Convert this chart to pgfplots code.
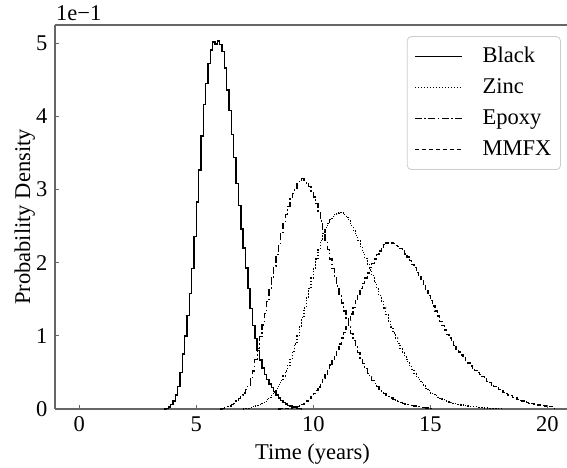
\documentclass[border=0pt]{standalone}
\usepackage{fontspec}
\setmainfont{Liberation Serif}
\usepackage{pgfplots}
\usepackage{pgfplotstable}
\pgfplotsset{compat=1.18}
\pgfplotstableread{
x b z e m
3.6 0 nan nan nan
3.7 0.001 nan nan nan
3.8 0.003 nan nan nan
3.9 0.006 nan nan nan
4.0 0.011 nan nan nan
4.1 0.019 nan nan nan
4.2 0.031 nan nan nan
4.3 0.050 nan nan nan
4.4 0.075 nan nan nan
4.5 0.100 nan nan nan
4.6 0.128 nan nan nan
4.7 0.158 nan nan nan
4.8 0.192 nan nan nan
4.9 0.236 nan nan nan
5.0 0.283 nan nan nan
5.1 0.327 nan nan nan
5.2 0.373 nan nan nan
5.3 0.416 nan nan nan
5.4 0.445 nan nan nan
5.5 0.472 nan nan nan
5.6 0.491 nan nan nan
5.7 0.502 nan nan nan
5.8 0.499 nan nan nan
5.9 0.503 nan nan nan
6.0 0.498 nan 0 nan
6.1 0.489 nan 0.001 nan
6.2 0.466 nan 0.002 nan
6.3 0.436 nan 0.003 nan
6.4 0.408 nan 0.004 nan
6.5 0.375 nan 0.006 nan
6.6 0.344 nan 0.008 nan
6.7 0.308 nan 0.011 nan
6.8 0.278 nan 0.014 nan
6.9 0.246 nan 0.018 nan
7.0 0.220 0 0.022 nan
7.1 0.193 0.001 0.027 nan
7.2 0.165 0.001 0.033 nan
7.3 0.137 0.002 0.041 nan
7.4 0.114 0.003 0.052 nan
7.5 0.096 0.004 0.068 nan
7.6 0.080 0.005 0.083 nan
7.7 0.067 0.006 0.099 nan
7.8 0.056 0.008 0.115 nan
7.9 0.047 0.010 0.131 nan
8.0 0.040 0.013 0.147 nan
8.1 0.034 0.016 0.163 nan
8.2 0.029 0.019 0.179 nan
8.3 0.024 0.023 0.195 nan
8.4 0.019 0.028 0.211 nan
8.5 0.015 0.033 0.226 0
8.6 0.012 0.039 0.241 0.0003
8.7 0.009 0.045 0.254 0.0005
8.8 0.007 0.052 0.266 0.0007
8.9 0.005 0.060 0.277 0.001
9.0 0.004 0.069 0.287 0.0013
9.1 0.003 0.079 0.295 0.002
9.2 0.002 0.089 0.302 0.0027
9.3 0.001 0.100 0.308 0.0035
9.4 0.0005 0.112 0.313 0.005
9.5 0 0.125 0.315 0.0065
9.6 nan 0.138 0.313 0.008
9.7 nan 0.152 0.309 0.011
9.8 nan 0.165 0.304 0.014
9.9 nan 0.179 0.298 0.017
10.0 nan 0.192 0.290 0.021
10.1 nan 0.205 0.281 0.025
10.2 nan 0.218 0.270 0.030
10.3 nan 0.230 0.257 0.036
10.4 nan 0.240 0.244 0.042
10.5 nan 0.248 0.231 0.048
10.6 nan 0.254 0.218 0.054
10.7 nan 0.259 0.205 0.060
10.8 nan 0.263 0.192 0.066
10.9 nan 0.266 0.180 0.073
11.0 nan 0.268 0.168 0.081
11.1 nan 0.269 0.156 0.089
11.2 nan 0.268 0.145 0.097
11.3 nan 0.266 0.134 0.105
11.4 nan 0.262 0.123 0.113
11.5 nan 0.257 0.113 0.121
11.6 nan 0.251 0.103 0.130
11.7 nan 0.244 0.094 0.139
11.8 nan 0.237 0.085 0.148
11.9 nan 0.230 0.077 0.157
12.0 nan 0.222 0.069 0.165
12.1 nan 0.214 0.062 0.172
12.2 nan 0.206 0.055 0.179
12.3 nan 0.198 0.049 0.186
12.4 nan 0.190 0.044 0.193
12.5 nan 0.182 0.039 0.199
12.6 nan 0.173 0.035 0.205
12.7 nan 0.164 0.031 0.211
12.8 nan 0.155 0.027 0.216
12.9 nan 0.147 0.024 0.221
13.0 nan 0.138 0.021 0.225
13.1 nan 0.129 0.019 0.227
13.2 nan 0.120 0.017 0.228
13.3 nan 0.112 0.015 0.227
13.4 nan 0.104 0.013 0.226
13.5 nan 0.097 0.011 0.224
13.6 nan 0.090 0.010 0.222
13.7 nan 0.083 0.009 0.219
13.8 nan 0.077 0.008 0.216
13.9 nan 0.071 0.007 0.212
14.0 nan 0.065 0.006 0.208
14.1 nan 0.059 0.005 0.203
14.2 nan 0.054 0.0045 0.198
14.3 nan 0.049 0.004 0.193
14.4 nan 0.044 0.0035 0.187
14.5 nan 0.040 0.003 0.181
14.6 nan 0.036 0.0025 0.175
14.7 nan 0.032 0.002 0.168
14.8 nan 0.028 0.0015 0.162
14.9 nan 0.025 0.001 0.155
15.0 nan 0.022 0.0005 0.148
15.1 nan 0.020 0 0.141
15.2 nan 0.018 nan 0.134
15.3 nan 0.016 nan 0.127
15.4 nan 0.014 nan 0.120
15.5 nan 0.013 nan 0.114
15.6 nan 0.011 nan 0.108
15.7 nan 0.010 nan 0.102
15.8 nan 0.009 nan 0.097
15.9 nan 0.008 nan 0.092
16.0 nan 0.007 nan 0.087
16.1 nan 0.0065 nan 0.082
16.2 nan 0.006 nan 0.078
16.3 nan 0.0055 nan 0.074
16.4 nan 0.005 nan 0.070
16.5 nan 0.0045 nan 0.066
16.6 nan 0.004 nan 0.063
16.7 nan 0.0035 nan 0.059
16.8 nan 0.003 nan 0.056
16.9 nan 0.003 nan 0.053
17.0 nan 0.0025 nan 0.050
17.1 nan 0.002 nan 0.047
17.2 nan 0.002 nan 0.044
17.3 nan 0.0015 nan 0.041
17.4 nan 0.0015 nan 0.038
17.5 nan 0.001 nan 0.036
17.6 nan 0.001 nan 0.033
17.7 nan 0.0008 nan 0.031
17.8 nan 0.0006 nan 0.029
17.9 nan 0.0004 nan 0.027
18.0 nan 0.0002 nan 0.025
18.1 nan 0 nan 0.023
18.2 nan nan nan 0.021
18.3 nan nan nan 0.019
18.4 nan nan nan 0.018
18.5 nan nan nan 0.016
18.6 nan nan nan 0.015
18.7 nan nan nan 0.013
18.8 nan nan nan 0.012
18.9 nan nan nan 0.011
19.0 nan nan nan 0.010
19.1 nan nan nan 0.009
19.2 nan nan nan 0.008
19.3 nan nan nan 0.0075
19.4 nan nan nan 0.007
19.5 nan nan nan 0.006
19.6 nan nan nan 0.0055
19.7 nan nan nan 0.005
19.8 nan nan nan 0.0045
19.9 nan nan nan 0.004
20.0 nan nan nan 0.0035
20.1 nan nan nan 0.003
20.2 nan nan nan 0.003
20.3 nan nan nan 0
}\data

\begin{document}
\fontsize{22.5}{27}\selectfont
\begin{tikzpicture}
\begin{axis}[
  width=512pt, height=384pt, scale only axis,
  xmin=-1.04, xmax=20.84, ymin=0, ymax=0.525,
  xtick={0,5,10,15,20},
  ytick={0,0.1,0.2,0.3,0.4,0.5},
  yticklabels={0,1,2,3,4,5},
  scaled y ticks=false,
  /pgf/number format/assume math mode=true,
  axis x line*=box, axis y line*=left,
  axis line style={line width=1.1pt, black!60},
  tick align=inside, tick pos=left,
  major tick length=4pt,
  every tick/.style={line width=1.1pt, black!60},
  xlabel={Time (years)},
  ylabel={Probability Density},
  xlabel style={at={(axis description cs:0.503,0)}, anchor=base, yshift=-50pt},
  ylabel style={at={(axis description cs:-0.0488,0.5)}, anchor=base},
  unbounded coords=discard,
  legend image code/.code={\draw[#1] (0pt,0pt) -- (47pt,0pt);},
  legend cell align=left,
  legend style={at={(axis description cs:0.988,0.971)}, anchor=north east,
    draw=black!20, line width=0.8pt, rounded corners=4pt, fill=white,
    inner xsep=7pt, inner ysep=7.5pt, row sep=6pt, column sep=18pt,
    nodes={inner sep=2pt, text height=16pt, text depth=5pt}},
]
\addplot[black, line width=1.4pt, solid, const plot mark left] table[x=x, y=b] {\data};
\addlegendentry{Black}
\addplot[black, line width=1.2pt, dash pattern=on 1.2pt off 1.8pt, const plot mark left] table[x=x, y=z] {\data};
\addlegendentry{Zinc}
\addplot[black, line width=1.3pt, dash pattern=on 7pt off 2.5pt on 1.5pt off 2.5pt, const plot mark left] table[x=x, y=e] {\data};
\addlegendentry{Epoxy}
\addplot[black, line width=1.3pt, dash pattern=on 4.5pt off 2.5pt, const plot mark left] table[x=x, y=m] {\data};
\addlegendentry{MMFX}
\coordinate (SW) at (rel axis cs:0,0);
\end{axis}
\node[anchor=base west, inner sep=0pt] at ([shift={(1pt,388.5pt)}]SW) {1e−1};
\pgfresetboundingbox
\path[use as bounding box] ([shift={(-55pt,-58pt)}]SW) rectangle ([shift={(512pt,409pt)}]SW);
\end{tikzpicture}
\end{document}
